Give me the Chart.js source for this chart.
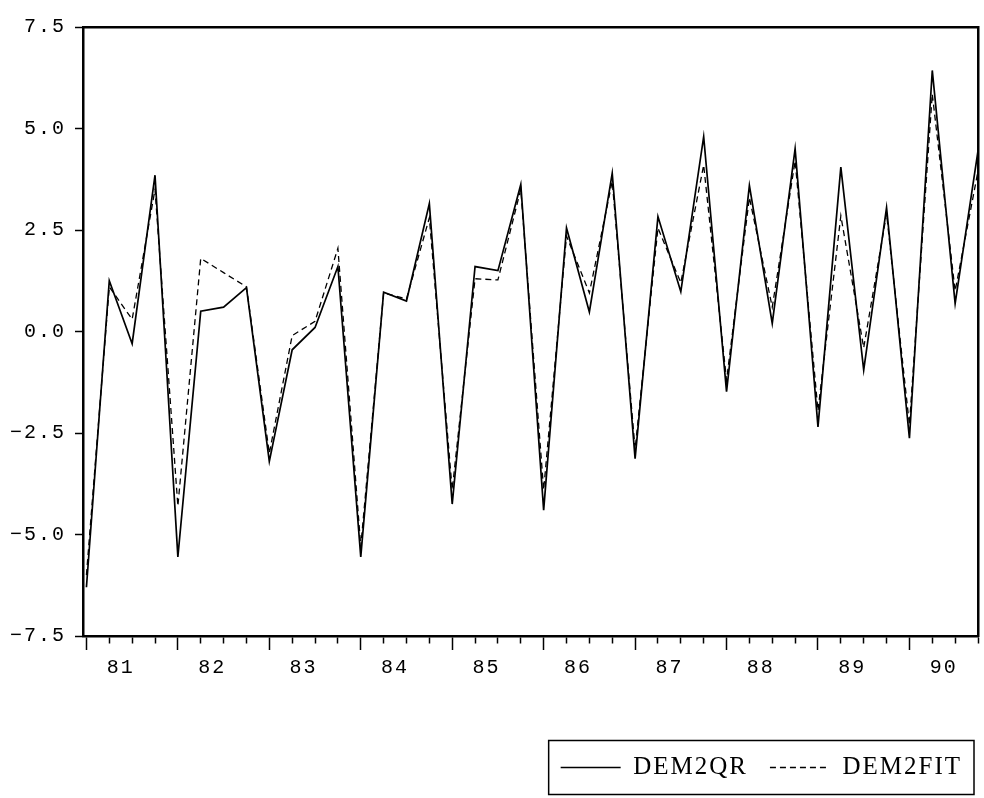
<!DOCTYPE html>
<html><head><meta charset="utf-8">
<script src="https://cdn.jsdelivr.net/npm/chart.js@4/dist/chart.umd.min.js"></script>
<style>html,body{margin:0;padding:0;background:#fff}#wrap{width:984px;height:798px}</style>
</head><body><div id="wrap"><canvas id="c" width="984" height="798"></canvas></div>
<script>
// Quarterly observations 1981Q1 .. 1990Q4
const quarters = [];
for (let y = 1981; y <= 1990; y++) for (let q = 1; q <= 4; q++) quarters.push(y + 'Q' + q);
const yearLabels = ['81','82','83','84','85','86','87','88','89','90'];
const dem2qr = [-6.3, 1.25, -0.3, 3.85, -5.55, 0.5, 0.6, 1.08, -3.2, -0.45,
                0.1, 1.6, -5.55, 0.97, 0.75, 3.15, -4.25, 1.6, 1.5, 3.62,
                -4.4, 2.55, 0.48, 3.9, -3.13, 2.83, 0.98, 4.8, -1.48, 3.6,
                0.2, 4.5, -2.35, 4.05, -0.95, 3.05, -2.63, 6.43, 0.69, 4.45];
const dem2fit = [-6.0, 1.1, 0.3, 3.5, -4.3, 1.8, 1.45, 1.1, -3.0, -0.1,
                 0.25, 2.05, -5.3, 0.95, 0.8, 2.8, -3.9, 1.3, 1.27, 3.5,
                 -3.9, 2.35, 0.95, 3.7, -2.9, 2.55, 1.2, 4.1, -1.2, 3.3,
                 0.6, 4.2, -1.95, 2.85, -0.4, 2.9, -2.3, 5.85, 1.0, 3.95];
const yTicks = [-7.5, -5.0, -2.5, 0.0, 2.5, 5.0, 7.5];

const spacingPlugin = {
  id: 'spacing',
  beforeUpdate(c) { c.ctx.letterSpacing = '2px'; },
  beforeLayout(c) { c.ctx.letterSpacing = '2px'; },
  beforeDraw(c) { c.ctx.letterSpacing = '2px'; }
};
const legendFrame = {
  id: 'legendFrame',
  afterDraw(c) {
    const lg = c.legend; const hb = lg.legendHitBoxes;
    if (!hb || !hb.length) return;
    const ctx = c.ctx;
    const left = hb[0].left - 12;
    const right = Math.min(c.width - 3, hb[hb.length - 1].left + hb[hb.length - 1].width + 12);
    const cy = hb[0].top + hb[0].height / 2;
    ctx.save();
    ctx.strokeStyle = '#000'; ctx.lineWidth = 1.5;
    ctx.strokeRect(left, cy - 27, right - left, 54);
    ctx.restore();
  }
};

const mono = {family: 'Liberation Mono', size: 20};
new Chart(document.getElementById('c'), {
  type: 'line',
  data: {
    datasets: [
      {label: 'DEM2QR', data: dem2qr.map((v, i) => ({x: i, y: v})), borderColor: '#000', backgroundColor: '#000',
       borderWidth: 1.7, pointRadius: 0, tension: 0, fill: false},
      {label: 'DEM2FIT', data: dem2fit.map((v, i) => ({x: i, y: v})), borderColor: '#000', backgroundColor: '#000',
       borderWidth: 1.3, borderDash: [6, 4], pointRadius: 0, tension: 0, fill: false}
    ]
  },
  options: {
    responsive: false, animation: false, devicePixelRatio: 1,
    layout: {padding: {top: 27, left: 0, right: 0, bottom: 8}},
    plugins: {
      tooltip: {enabled: false},
      legend: {
        position: 'bottom', align: 'end',
        labels: {color: '#000', font: {family: 'Liberation Serif', size: 25}, padding: 22,
                 usePointStyle: true, pointStyle: 'line', pointStyleWidth: 60,
                 generateLabels(chart) {
                   const items = Chart.defaults.plugins.legend.labels.generateLabels(chart);
                   items.forEach((it, i) => {
                     const ds = chart.data.datasets[i];
                     it.lineDash = ds.borderDash || [];
                     it.lineWidth = 1.3;
                     it.strokeStyle = '#000';
                     it.pointStyle = 'line';
                   });
                   return items;
                 }}
      }
    },
    scales: {
      x: {
        type: 'linear', position: 'bottom', min: -0.15, max: 39,
        afterBuildTicks(s) {
          const t = [];
          quarters.forEach((q, i) => t.push({value: i}));
          yearLabels.forEach((l, k) => t.push({value: 4 * k + 1.5}));
          t.sort((a, b) => a.value - b.value);
          s.ticks = t;
        },
        afterFit(s) { s.height = 97; },
        ticks: {autoSkip: false, maxRotation: 0, minRotation: 0, padding: 6, color: '#000', font: mono,
          callback(v) { const k = (v - 1.5) / 4; return Number.isInteger(k) ? yearLabels[k] : ''; }},
        grid: {drawOnChartArea: false, tickLength: 14, tickWidth: 1.5, color: '#000',
          tickColor(ctx) { const v = ctx.tick ? ctx.tick.value : 0; return (v % 1 === 0) ? '#000' : 'rgba(0,0,0,0)'; },
          tickBorderDash(ctx) { const v = ctx.tick ? ctx.tick.value : 0; return (v % 4 === 0) ? [] : [6, 40]; }},
        border: {display: true, color: '#000', width: 2.5}
      },
      xT: {
        type: 'linear', position: 'top', min: -0.15, max: 39,
        afterFit(s) { s.height = 0; },
        ticks: {display: false}, grid: {display: false},
        border: {display: true, color: '#000', width: 2.5}
      },
      y: {
        min: -7.5, max: 7.5,
        afterBuildTicks(s) { s.ticks = yTicks.map(v => ({value: v})); },
        afterFit(s) { s.width = 83; },
        ticks: {color: '#000', padding: 9, font: mono,
          callback(v) { return (v < 0 ? '\u2212' : '') + Math.abs(v).toFixed(1); }},
        grid: {drawOnChartArea: false, tickLength: 8, tickWidth: 1.5, color: '#000'},
        border: {display: true, color: '#000', width: 2.5}
      },
      yR: {
        position: 'right', min: -7.5, max: 7.5,
        afterFit(s) { s.width = 5; },
        ticks: {display: false}, grid: {display: false},
        border: {display: true, color: '#000', width: 2.5}
      }
    }
  },
  plugins: [spacingPlugin, legendFrame]
});
</script>
</body></html>
